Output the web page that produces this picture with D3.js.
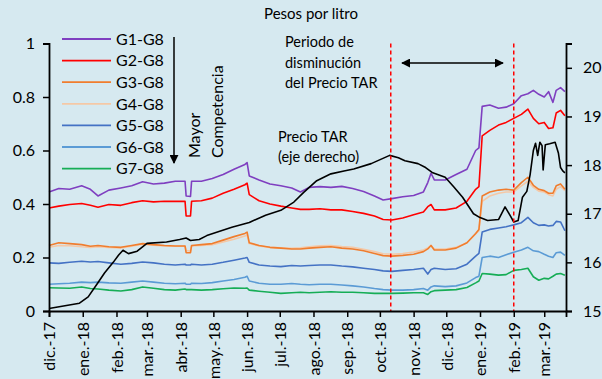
<!DOCTYPE html>
<html><head><meta charset="utf-8">
<script src="https://cdn.jsdelivr.net/npm/d3@7"></script>
<style>
html,body{margin:0;padding:0;background:#d6e9f0;overflow:hidden;}
svg{display:block;font-family:Lato,"Open Sans",sans-serif;}
</style></head><body>
<svg id="c" width="602" height="379"></svg>
<script>
const seriesNames = ["G1-G8","G2-G8","G3-G8","G4-G8","G5-G8","G6-G8","G7-G8"];
const seriesColors = ["#7f3fc0","#ff0000","#f07d2e","#f5c8a6","#4472c4","#5b9bd5","#16ad56"];
const dates = ["2017-12-01","2017-12-10","2017-12-20","2017-12-31","2018-01-08","2018-01-15","2018-01-25","2018-02-05","2018-02-15","2018-02-25",
"2018-03-07","2018-03-17","2018-03-27","2018-04-05","2018-04-06","2018-04-10","2018-04-11","2018-04-20","2018-04-30","2018-05-10",
"2018-05-20","2018-05-30","2018-06-01","2018-06-03","2018-06-12","2018-06-22","2018-07-02","2018-07-12","2018-07-20","2018-07-28",
"2018-08-07","2018-08-17","2018-08-27","2018-09-06","2018-09-16","2018-09-26","2018-10-04","2018-10-12","2018-10-22","2018-11-01",
"2018-11-10","2018-11-14","2018-11-17","2018-11-20","2018-11-30","2018-12-10","2018-12-20","2018-12-28","2018-12-31","2019-01-03",
"2019-01-10","2019-01-18","2019-01-25","2019-02-01","2019-02-08","2019-02-14","2019-02-19","2019-02-24","2019-03-01","2019-03-05",
"2019-03-09","2019-03-12","2019-03-16","2019-03-20"];
const g1 = [0.445,0.458,0.455,0.468,0.455,0.430,0.452,0.460,0.468,0.483,0.475,0.478,0.485,0.485,0.430,0.428,0.485,0.485,0.495,0.510,
0.530,0.548,0.555,0.505,0.490,0.475,0.468,0.460,0.445,0.462,0.465,0.462,0.466,0.458,0.447,0.430,0.415,0.420,0.427,0.432,
0.445,0.480,0.515,0.490,0.490,0.510,0.530,0.600,0.610,0.765,0.770,0.758,0.762,0.775,0.805,0.812,0.825,0.810,0.800,0.820,
0.780,0.825,0.835,0.820];
const g2 = [0.385,0.392,0.398,0.402,0.395,0.388,0.398,0.395,0.405,0.412,0.408,0.410,0.410,0.410,0.355,0.355,0.410,0.412,0.422,0.440,
0.455,0.472,0.478,0.435,0.412,0.400,0.392,0.385,0.380,0.380,0.382,0.378,0.378,0.372,0.365,0.355,0.342,0.340,0.348,0.360,
0.370,0.390,0.398,0.378,0.378,0.385,0.410,0.455,0.465,0.655,0.675,0.695,0.705,0.720,0.735,0.755,0.720,0.700,0.705,0.682,
0.685,0.740,0.750,0.730];
const g3 = [0.245,0.255,0.252,0.248,0.242,0.245,0.240,0.238,0.245,0.252,0.248,0.245,0.243,0.243,0.218,0.218,0.245,0.248,0.252,0.265,
0.278,0.290,0.295,0.255,0.245,0.238,0.235,0.232,0.232,0.235,0.238,0.240,0.235,0.232,0.225,0.215,0.207,0.205,0.208,0.212,
0.222,0.232,0.245,0.228,0.228,0.235,0.255,0.290,0.305,0.430,0.445,0.452,0.455,0.452,0.480,0.500,0.470,0.455,0.450,0.440,
0.440,0.468,0.475,0.455];
const g4 = [0.238,0.245,0.244,0.240,0.238,0.240,0.238,0.236,0.242,0.250,0.246,0.243,0.242,0.242,0.225,0.225,0.243,0.245,0.248,0.258,
0.268,0.280,0.285,0.252,0.243,0.238,0.236,0.234,0.236,0.240,0.244,0.245,0.241,0.238,0.231,0.222,0.214,0.212,0.215,0.220,
0.228,0.236,0.245,0.232,0.232,0.238,0.255,0.288,0.300,0.410,0.430,0.440,0.445,0.445,0.468,0.485,0.462,0.448,0.445,0.435,
0.430,0.455,0.465,0.450];
const g5 = [0.180,0.178,0.182,0.186,0.183,0.185,0.180,0.175,0.178,0.183,0.180,0.175,0.172,0.175,0.172,0.172,0.175,0.172,0.175,0.182,
0.190,0.198,0.200,0.182,0.172,0.168,0.166,0.170,0.168,0.170,0.172,0.172,0.168,0.165,0.160,0.155,0.150,0.148,0.152,0.155,
0.160,0.138,0.155,0.160,0.155,0.158,0.175,0.205,0.215,0.295,0.305,0.310,0.315,0.322,0.330,0.350,0.330,0.320,0.322,0.318,
0.320,0.335,0.333,0.300];
const g6 = [0.100,0.102,0.104,0.108,0.106,0.108,0.105,0.104,0.108,0.112,0.108,0.104,0.102,0.104,0.100,0.100,0.104,0.103,0.106,0.112,
0.118,0.126,0.130,0.112,0.104,0.100,0.100,0.103,0.100,0.098,0.100,0.100,0.097,0.094,0.090,0.084,0.080,0.078,0.078,0.080,
0.084,0.078,0.090,0.094,0.091,0.094,0.105,0.125,0.130,0.200,0.205,0.200,0.210,0.220,0.228,0.238,0.225,0.222,0.212,0.205,
0.200,0.218,0.220,0.208];
const g7 = [0.087,0.086,0.085,0.090,0.084,0.082,0.078,0.075,0.080,0.090,0.085,0.080,0.078,0.082,0.080,0.080,0.080,0.078,0.080,0.083,
0.086,0.085,0.086,0.078,0.074,0.070,0.066,0.068,0.070,0.068,0.070,0.072,0.070,0.070,0.068,0.066,0.066,0.066,0.067,0.068,
0.068,0.062,0.072,0.076,0.078,0.080,0.088,0.105,0.112,0.140,0.138,0.134,0.136,0.152,0.155,0.160,0.128,0.115,0.122,0.120,
0.130,0.138,0.140,0.134];
const tarDates = ["2017-12-01","2017-12-29","2018-01-06","2018-01-14","2018-01-21","2018-01-29","2018-02-03","2018-02-07","2018-02-12","2018-02-20",
"2018-03-01","2018-03-19","2018-03-31","2018-04-06","2018-04-10","2018-04-18","2018-04-25","2018-05-18","2018-06-03","2018-06-18",
"2018-07-02","2018-07-14","2018-07-23","2018-08-04","2018-08-17","2018-08-29","2018-09-07","2018-09-23","2018-10-10","2018-10-18",
"2018-10-24","2018-11-05","2018-11-12","2018-11-18","2018-11-30","2018-12-08","2018-12-16","2018-12-26","2019-01-01","2019-01-08",
"2019-01-18","2019-01-24","2019-01-29","2019-02-01","2019-02-05","2019-02-09","2019-02-13","2019-02-16","2019-02-19","2019-02-21",
"2019-02-23","2019-02-25","2019-02-27","2019-02-28","2019-03-02","2019-03-06","2019-03-11","2019-03-14","2019-03-16","2019-03-18",
"2019-03-20"];
const tarValues = [15.05,15.16,15.29,15.55,15.78,16.00,16.15,16.25,16.18,16.23,
16.39,16.42,16.47,16.50,16.45,16.47,16.55,16.72,16.82,16.97,
17.07,17.24,17.44,17.68,17.82,17.88,17.92,18.03,18.20,18.15,
18.09,18.03,17.95,17.85,17.75,17.55,17.34,17.00,16.92,16.86,
16.88,17.14,16.95,16.83,16.86,17.34,17.46,17.80,18.30,18.45,
18.20,18.47,18.40,17.90,18.42,18.44,18.47,18.25,17.95,17.88,
17.84];
const xTickDates = ["2017-12-01","2018-01-01","2018-02-01","2018-03-01","2018-04-01","2018-05-01","2018-06-01","2018-07-01","2018-08-01",
"2018-09-01","2018-10-01","2018-11-01","2018-12-01","2019-01-01","2019-02-01","2019-03-01"];
const xTickLabels = ["dic.-17","ene.-18","feb.-18","mar.-18","abr.-18","may.-18","jun.-18","jul.-18","ago.-18","sep.-18","oct.-18",
"nov.-18","dic.-18","ene.-19","feb.-19","mar.-19"];
const leftTicks = [0,0.2,0.4,0.6,0.8,1];
const rightTicks = [15,16,17,18,19,20];
const periodMarks = ["2018-10-11","2019-02-01"];

const parse = d3.timeParse("%Y-%m-%d");
const svg = d3.select("#c");
svg.append("rect").attr("width",602).attr("height",379).attr("fill","#d6e9f0");

const x = d3.scaleTime().domain([parse("2017-12-01"), parse("2019-03-21")]).range([49,566]);
const yL = d3.scaleLinear().domain([0,1]).range([311,43.5]);
const yR = d3.scaleLinear().domain([15,20.5]).range([311,43.5]);

const allSeries = [g1,g2,g3,g4,g5,g6,g7];
const dd = dates.map(parse);
const line = d3.line().x(d=>x(d[0])).y(d=>yL(d[1]));
for (let i = allSeries.length-1; i>=0; i--) {
  svg.append("path").datum(dd.map((d,j)=>[d, allSeries[i][j]]))
    .attr("d", line).attr("fill","none").attr("stroke", seriesColors[i])
    .attr("stroke-width",1.6).attr("stroke-linejoin","round");
}
const lineR = d3.line().x(d=>x(d[0])).y(d=>yR(d[1]));
svg.append("path").datum(tarDates.map((d,j)=>[parse(d), tarValues[j]]))
  .attr("d", lineR).attr("fill","none").attr("stroke","#000").attr("stroke-width",1.6).attr("stroke-linejoin","round");

periodMarks.forEach(p=>{
  svg.append("line").attr("x1",x(parse(p))).attr("x2",x(parse(p))).attr("y1",yL(1)).attr("y2",yL(0))
    .attr("stroke","#ff0000").attr("stroke-width",1.5).attr("stroke-dasharray","4,3");
});

const fmtL = d => (d===0||d===1) ? String(d) : d.toFixed(1);
const gL = svg.append("g").attr("transform","translate(49,0)")
  .call(d3.axisLeft(yL).tickValues(leftTicks).tickFormat(fmtL).tickSizeOuter(0).tickSize(6).tickPadding(8));
const gR = svg.append("g").attr("transform","translate(566,0)")
  .call(d3.axisRight(yR).tickValues(rightTicks).tickFormat(d3.format("d")).tickSizeOuter(0).tickSize(6).tickPadding(11));
const gB = svg.append("g").attr("transform","translate(0,311)")
  .call(d3.axisBottom(x).tickValues(xTickDates.map(parse)).tickFormat((d,i)=>xTickLabels[i]).tickSizeOuter(0).tickSize(6));
[gL,gR,gB].forEach(g=>{
  g.selectAll("path.domain").attr("stroke","#000").attr("stroke-width",1.8);
  g.selectAll(".tick line").attr("stroke","#000").attr("stroke-width",1.5);
  g.selectAll("text").attr("fill","#000").attr("font-family","Lato, sans-serif").attr("font-size",16);
});
gB.selectAll("text").attr("transform","rotate(-90)").attr("text-anchor","end")
  .attr("x",-11).attr("y",0).attr("dy","0.36em");

const lg = svg.append("g");
seriesNames.forEach((n,i)=>{
  const yy = 39 + i*21.6;
  lg.append("line").attr("x1",62).attr("x2",111).attr("y1",yy).attr("y2",yy)
    .attr("stroke",seriesColors[i]).attr("stroke-width",1.8);
  lg.append("text").attr("x",116).attr("y",yy).attr("dy","0.36em").attr("font-size",16).attr("fill","#000").text(n);
});

const defs = svg.append("defs");
defs.append("marker").attr("id","ah").attr("viewBox","0 0 10 10").attr("refX",9).attr("refY",5)
  .attr("markerWidth",9).attr("markerHeight",9).attr("markerUnits","userSpaceOnUse").attr("orient","auto-start-reverse")
  .append("path").attr("d","M0,0L10,5L0,10Z").attr("fill","#000");

svg.append("line").attr("x1",174).attr("x2",174).attr("y1",37).attr("y2",163)
  .attr("stroke","#000").attr("stroke-width",1.5).attr("marker-end","url(#ah)");
svg.append("text").attr("transform","translate(200,158) rotate(-90)").attr("font-size",16).attr("fill","#000").text("Mayor");
svg.append("text").attr("transform","translate(223,158) rotate(-90)").attr("font-size",16).attr("fill","#000").text("Competencia");

svg.append("line").attr("x1",402).attr("x2",503).attr("y1",63).attr("y2",63)
  .attr("stroke","#000").attr("stroke-width",1.5).attr("marker-start","url(#ah)").attr("marker-end","url(#ah)");

svg.append("text").attr("x",311).attr("y",19).attr("text-anchor","middle").attr("font-size",15).attr("fill","#000").text("Pesos por litro");
const per = ["Periodo de","disminución","del Precio TAR"];
per.forEach((t,i)=>svg.append("text").attr("x",285).attr("y",47+i*20.5).attr("font-size",14.5).attr("fill","#000").text(t));
["Precio TAR","(eje derecho)"].forEach((t,i)=>svg.append("text").attr("x",278).attr("y",142+i*20).attr("font-size",14.5).attr("fill","#000").text(t));
</script>
</body></html>
